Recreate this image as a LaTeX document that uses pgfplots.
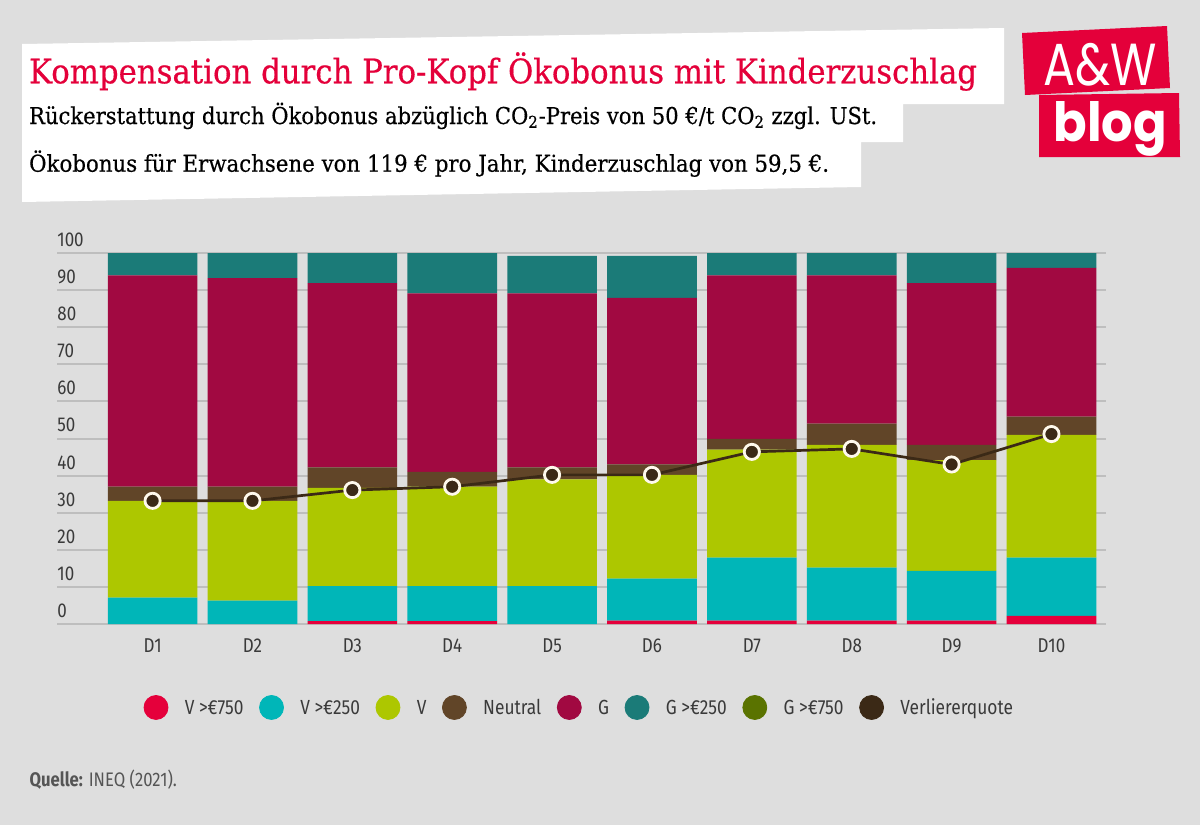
\documentclass[border=0pt]{standalone}
\usepackage{fontspec}
\usepackage{graphicx}
\usepackage{pgfplots}
\usepackage{pgfplotstable}
\pgfplotsset{compat=1.18}
\setmainfont{Fira Sans}
\newfontfamily\sansfont[FakeStretch=0.85]{Fira Sans}
\newfontfamily\serifttl[FakeBold=0.5]{DejaVu Serif}
\newfontfamily\logofont{Poppins}
\definecolor{bg}{HTML}{DEDEDE}
\definecolor{gridc}{HTML}{BEBEBE}
\definecolor{awred}{HTML}{E4003A}
\definecolor{cA}{HTML}{E5003B}
\definecolor{cB}{HTML}{00B6B8}
\definecolor{cC}{HTML}{ADC700}
\definecolor{cD}{HTML}{614528}
\definecolor{cE}{HTML}{A10941}
\definecolor{cF}{HTML}{1B7B78}
\definecolor{cG}{HTML}{5A7300}
\definecolor{cH}{HTML}{3B2916}
\definecolor{cream}{HTML}{FFF9EC}
\definecolor{lbl}{HTML}{3A3A3A}
\definecolor{quelle}{HTML}{555555}

\pgfplotstableread{
x  v750 v250 v    neu  g    g250 g750 quote
0  0.0  7.1  26.1 3.8  57.0 6.0  0 33.2
1  0.0  6.3  26.9 3.8  56.2 6.8  0 33.2
2  0.8  9.4  26.5 5.5  49.7 8.1  0 36.1
3  0.8  9.4  26.8 4.0  48.1 10.9 0 37.0
4  0.0  10.2 28.8 3.2  46.9 10.1 0 40.2
5  0.9  11.3 28.0 2.8  44.9 11.3 0 40.2
6  0.9  17.0 29.1 2.9  44.1 6.0  0 46.4
7  0.9  14.3 33.1 5.7  40.0 6.0  0 47.2
8  0.9  13.4 29.9 4.1  43.6 8.1  0 43.0
9  2.2  15.7 33.1 4.9  40.1 4.0  0 51.2
}\data

\begin{document}
\begin{tikzpicture}
\begin{scope}[x=0.5pt,y=-0.5pt]
\fill[bg] (0,0) rectangle (1200,825);
% title box
\fill[white] (22,44) -- (1004,28) -- (1004,104) -- (903,104) -- (903,142) -- (861,142) -- (861,187) -- (22,202) -- cycle;
\node[anchor=base west, inner sep=0pt, text=awred] at (28.7,83.3)
  {\resizebox{474pt}{\height}{\serifttl\fontsize{16.9pt}{20pt}\selectfont Kompensation durch Pro-Kopf Ökobonus mit Kinderzuschlag}};
\node[anchor=base west, inner sep=0pt, text=black] at (28.7,124)
  {\resizebox{424pt}{\height}{\serifttl\fontsize{11.6pt}{14pt}\selectfont Rückerstattung durch Ökobonus abzüglich CO\textsubscript{2}-Preis von 50 €/t CO\textsubscript{2} zzgl. USt.}};
\node[anchor=base west, inner sep=0pt, text=black] at (28.7,171.7)
  {\resizebox{400pt}{\height}{\serifttl\fontsize{11.6pt}{14pt}\selectfont Ökobonus für Erwachsene von 119 € pro Jahr, Kinderzuschlag von 59,5 €.}};
% logo
\fill[awred] (1022,33) -- (1167,26) -- (1170,88) -- (1025,95) -- cycle;
\fill[awred] (1039,95) -- (1179,93) -- (1180,157) -- (1039,157) -- cycle;
\node[anchor=base west, inner sep=0pt, text=white] at (1043.3,85) {\resizebox{56.7pt}{21.1pt}{\logofont A\&W}};
\node[anchor=base west, inner sep=0pt, text=white] at (1053.3,141.7) {\resizebox{56.7pt}{20pt}{\logofont\bfseries blog}};
% source
\node[anchor=base west, inner sep=0pt, text=quelle] at (29.3,786.7) {\sansfont\fontsize{9.8pt}{12pt}\selectfont\textbf{Quelle:} INEQ (2021).};
\end{scope}

\begin{axis}[
  at={(28.5pt,-312pt)}, anchor=south west,
  scale only axis, width=524.5pt, height=185.5pt,
  xmin=-0.957, xmax=9.546, ymin=0, ymax=100,
  ybar stacked, bar width=44.8pt,
  axis line style={draw=none},
  major tick length=0pt,
  ymajorgrids, grid style={draw=gridc, line width=1pt},
  ytick={0,10,20,30,40,50,60,70,80,90,100},
  yticklabels={0,10,20,30,40,50,60,70,80,90,100},
  yticklabel style={anchor=base west, inner sep=0pt, yshift=3.3pt, font=\sansfont\fontsize{10pt}{12pt}\selectfont, text=lbl},
  xtick={0,1,2,3,4,5,6,7,8,9},
  xticklabels={D1,D2,D3,D4,D5,D6,D7,D8,D9,D10},
  xticklabel style={anchor=base, inner sep=0pt, yshift=-14.15pt, font=\sansfont\fontsize{10pt}{12pt}\selectfont, text=lbl},
  clip=false,
]
\addplot[fill=cA, draw=none] table[x=x,y=v750]{\data};
\addplot[fill=cB, draw=none] table[x=x,y=v250]{\data};
\addplot[fill=cC, draw=none] table[x=x,y=v]{\data};
\addplot[fill=cD, draw=none] table[x=x,y=neu]{\data};
\addplot[fill=cE, draw=none] table[x=x,y=g]{\data};
\addplot[fill=cF, draw=none] table[x=x,y=g250]{\data};
\addplot[fill=cG, draw=none] table[x=x,y=g750]{\data};
\end{axis}

\begin{axis}[
  at={(28.5pt,-312pt)}, anchor=south west,
  scale only axis, width=524.5pt, height=185.5pt,
  xmin=-0.957, xmax=9.546, ymin=0, ymax=100,
  hide axis, clip=false,
  legend columns=8, legend cell align=left,
  legend style={at={(0.0822,-0.225)}, anchor=west, draw=none, fill=none, inner sep=0pt,
     font=\sansfont\fontsize{10.2pt}{12pt}\selectfont, text=lbl,
     nodes={inner sep=0pt, text height=7.5pt, text depth=0pt},
     /tikz/every odd column/.append style={column sep=8.2pt},
     /tikz/every even column/.append style={column sep=7.8pt}},
]
\addplot[cH, line width=1.35pt, mark=*, mark size=3.8pt, mark options={fill=cH, draw=cream, line width=1.4pt}, forget plot] table[x=x,y=quote]{\data};
\addlegendimage{legend image code/.code={\fill[cA] (0pt,0pt) circle (6pt);}}
\addlegendentry{V >€750}
\addlegendimage{legend image code/.code={\fill[cB] (0pt,0pt) circle (6pt);}}
\addlegendentry{V >€250}
\addlegendimage{legend image code/.code={\fill[cC] (0pt,0pt) circle (6pt);}}
\addlegendentry{V}
\addlegendimage{legend image code/.code={\fill[cD] (0pt,0pt) circle (6pt);}}
\addlegendentry{Neutral}
\addlegendimage{legend image code/.code={\fill[cE] (0pt,0pt) circle (6pt);}}
\addlegendentry{G}
\addlegendimage{legend image code/.code={\fill[cF] (0pt,0pt) circle (6pt);}}
\addlegendentry{G >€250}
\addlegendimage{legend image code/.code={\fill[cG] (0pt,0pt) circle (6pt);}}
\addlegendentry{G >€750}
\addlegendimage{legend image code/.code={\fill[cH] (0pt,0pt) circle (6pt);}}
\addlegendentry{Verliererquote}
\end{axis}
\end{tikzpicture}
\end{document}
